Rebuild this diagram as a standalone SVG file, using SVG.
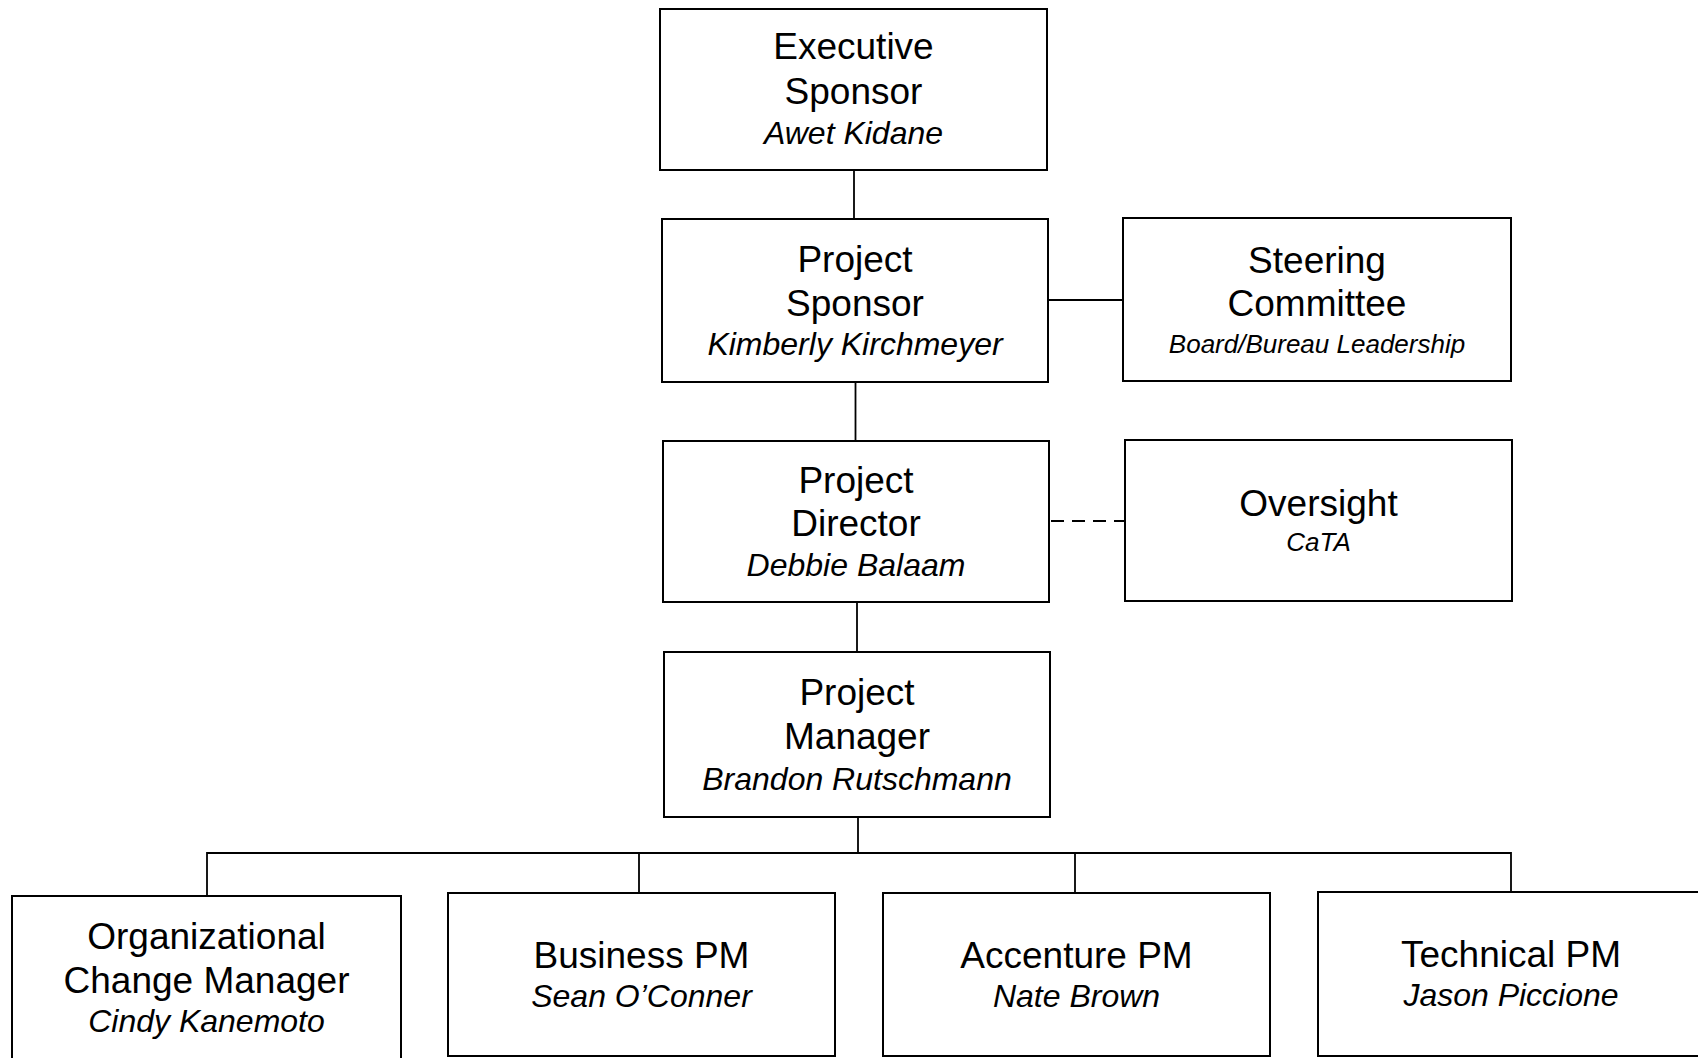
<svg xmlns="http://www.w3.org/2000/svg" width="1698" height="1058" viewBox="0 0 1698 1058">
<style>
.box{fill:#fff;stroke:#000;stroke-width:2}
.t{font-family:"Liberation Sans",Arial,sans-serif;font-size:37px;fill:#000;text-anchor:middle}
.n{font-family:"Liberation Sans",Arial,sans-serif;font-size:32px;font-style:italic;fill:#000;text-anchor:middle}
.s{font-family:"Liberation Sans",Arial,sans-serif;font-size:26px;font-style:italic;fill:#000;text-anchor:middle}
.c{fill:none;stroke:#000;stroke-width:1.8}
.d{stroke-dasharray:13 8}
</style>
<rect width="1698" height="1058" fill="#fff"/>
<g id="connectors">
<line class="c" x1="854" y1="170" x2="854" y2="219"/>
<line class="c" x1="855.5" y1="382" x2="855.5" y2="441"/>
<line class="c" x1="857" y1="602" x2="857" y2="652"/>
<line class="c" x1="858" y1="817" x2="858" y2="853"/>
<line class="c" x1="1048" y1="300" x2="1123" y2="300"/>
<line class="c d" x1="1051" y1="521" x2="1125" y2="521"/>
<polyline class="c" points="207,896 207,853 1511,853 1511,892"/>
<line class="c" x1="639" y1="853" x2="639" y2="893"/>
<line class="c" x1="1075" y1="853" x2="1075" y2="893"/>
</g>
<g id="executive-sponsor">
<rect class="box" x="660" y="9" width="387" height="161"/>
<text class="t" x="853.5" y="59">Executive</text>
<text class="t" x="853.5" y="104">Sponsor</text>
<text class="n" x="853.5" y="144">Awet Kidane</text>
</g>
<g id="project-sponsor">
<rect class="box" x="662" y="219" width="386" height="163"/>
<text class="t" x="855" y="272">Project</text>
<text class="t" x="855" y="316">Sponsor</text>
<text class="n" x="855" y="355">Kimberly Kirchmeyer</text>
</g>
<g id="steering-committee">
<rect class="box" x="1123" y="218" width="388" height="163"/>
<text class="t" x="1317" y="273">Steering</text>
<text class="t" x="1317" y="316">Committee</text>
<text class="s" x="1317" y="353">Board/Bureau Leadership</text>
</g>
<g id="project-director">
<rect class="box" x="663" y="441" width="386" height="161"/>
<text class="t" x="856" y="493">Project</text>
<text class="t" x="856" y="536">Director</text>
<text class="n" x="856" y="576">Debbie Balaam</text>
</g>
<g id="oversight">
<rect class="box" x="1125" y="440" width="387" height="161"/>
<text class="t" x="1318.5" y="516">Oversight</text>
<text class="s" x="1318.5" y="551">CaTA</text>
</g>
<g id="project-manager">
<rect class="box" x="664" y="652" width="386" height="165"/>
<text class="t" x="857" y="705">Project</text>
<text class="t" x="857" y="749">Manager</text>
<text class="n" x="857" y="790">Brandon Rutschmann</text>
</g>
<g id="org-change-manager">
<rect class="box" x="12" y="896" width="389" height="170"/>
<text class="t" x="206.5" y="949">Organizational</text>
<text class="t" x="206.5" y="993">Change Manager</text>
<text class="n" x="206.5" y="1032">Cindy Kanemoto</text>
</g>
<g id="business-pm">
<rect class="box" x="448" y="893" width="387" height="163"/>
<text class="t" x="641.5" y="968">Business PM</text>
<text class="n" x="641.5" y="1007">Sean O’Conner</text>
</g>
<g id="accenture-pm">
<rect class="box" x="883" y="893" width="387" height="163"/>
<text class="t" x="1076.5" y="968">Accenture PM</text>
<text class="n" x="1076.5" y="1007">Nate Brown</text>
</g>
<g id="technical-pm">
<rect class="box" x="1318" y="892" width="390" height="164"/>
<text class="t" x="1511" y="967">Technical PM</text>
<text class="n" x="1511" y="1006">Jason Piccione</text>
</g>
</svg>
